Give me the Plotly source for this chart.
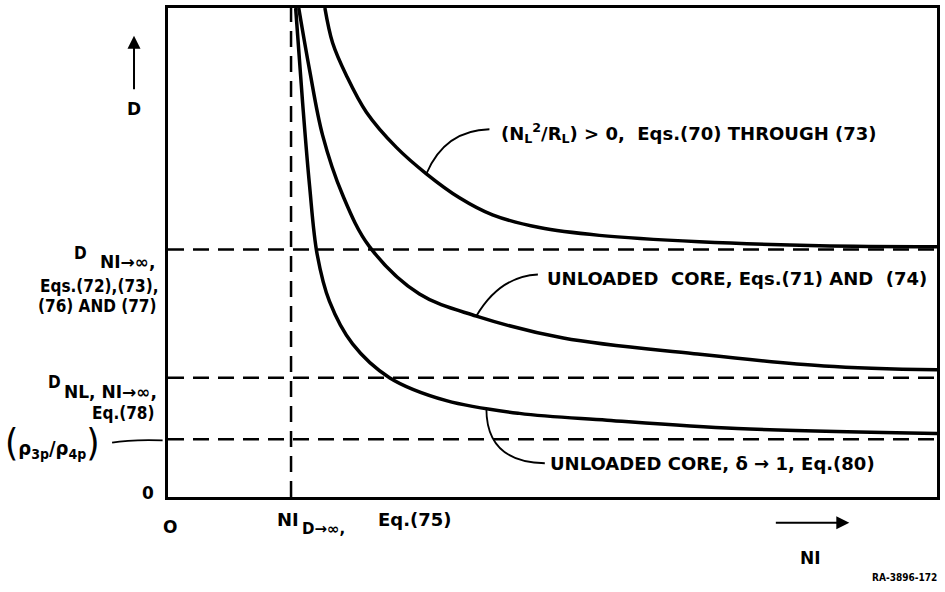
import plotly.graph_objects as go

# Curves (arbitrary units: NI 0..100, D 0..100)
top_x = [20.4, 21.4, 23.2, 25.8, 29.7, 33.6, 37.9, 42.2, 48.3, 56.1, 69.1, 84.7, 100]
top_y = [100, 92.9, 86.2, 78.7, 71.5, 66.1, 61.2, 57.7, 55.1, 53.5, 52.2, 51.4, 51.2]

mid_x = [17.0, 18.4, 20.1, 22.7, 26.2, 32.7, 40.1, 51.4, 68.4, 85.3, 100]
mid_y = [100, 87.4, 74.0, 61.8, 51.2, 41.5, 37.0, 32.5, 29.3, 26.8, 26.0]

bot_x = [16.6, 17.5, 18.4, 19.4, 21.0, 24.0, 28.8, 36.2, 45.7, 57.1, 74.0, 100]
bot_y = [100, 80.7, 63.8, 49.6, 40.0, 31.3, 24.4, 19.7, 17.1, 15.7, 14.0, 13.0]

# Asymptote levels
d_inf = 50.6
d_nl = 24.4
rho_ratio = 11.8
ni_d_inf = 16.0

FONT_IN = "DejaVu Sans"
FONT_SIDE = "DejaVu Sans Condensed"
fig = go.Figure()

dash = "16px,9px"
for lvl in [d_inf, d_nl, rho_ratio]:
    fig.add_trace(go.Scatter(x=[0, 100], y=[lvl, lvl], mode="lines",
                             line=dict(color="black", width=2.5, dash=dash),
                             hoverinfo="skip", showlegend=False))
fig.add_trace(go.Scatter(x=[ni_d_inf, ni_d_inf], y=[0, 100], mode="lines",
                         line=dict(color="black", width=2.5, dash=dash),
                         hoverinfo="skip", showlegend=False))

for xs, ys in [(top_x, top_y), (mid_x, mid_y), (bot_x, bot_y)]:
    fig.add_trace(go.Scatter(x=xs, y=ys, mode="lines",
                             line=dict(color="black", width=3.5, shape="spline", smoothing=1.0),
                             hoverinfo="skip", showlegend=False))

shapes = [
    dict(type="path", xref="x", yref="y", path="M 33.6,66.1 Q 36.0,75.0 41.8,75.2",
         line=dict(color="black", width=1.8)),
    dict(type="path", xref="x", yref="y", path="M 40.1,37.0 Q 43.1,45.1 48.1,45.5",
         line=dict(color="black", width=1.8)),
    dict(type="path", xref="x", yref="y", path="M 41.4,18.1 Q 41.4,7.1 49.0,6.9",
         line=dict(color="black", width=1.8)),
    dict(type="path", xref="paper", yref="paper", path="M -0.0727,0.111 Q -0.05,0.118 -0.007,0.116",
         line=dict(color="black", width=1.8)),
]

def ann(text, x, y, xanchor="left", yanchor="middle", size=18, family=FONT_IN):
    return dict(text=text, x=x, y=y, xref="paper", yref="paper", xanchor=xanchor, yanchor=yanchor,
                showarrow=False, align="left",
                font=dict(family=family, size=size, color="black", weight="bold"))

annotations = [
    ann("(N<sub>L</sub><sup>2</sup>/R<sub>L</sub>) > 0,  Eqs.(70) THROUGH (73)", 0.431, 0.745),
    ann("UNLOADED  CORE, Eqs.(71) AND  (74)", 0.490, 0.447),
    ann("UNLOADED CORE, δ → 1, Eq.(80)", 0.494, 0.069),
    # left side labels
    ann("D", -0.114, 0.500, xanchor="center", size=17, family=FONT_SIDE),
    ann("NI→∞,", -0.014, 0.480, xanchor="right", size=17),
    ann("Eqs.(72),(73),", -0.010, 0.431, xanchor="right", size=17, family=FONT_SIDE),
    ann("(76) AND (77)", -0.012, 0.390, xanchor="right", size=17, family=FONT_SIDE),
    ann("D", -0.147, 0.236, xanchor="center", size=17, family=FONT_SIDE),
    ann("NL, NI→∞,", -0.012, 0.214, xanchor="right", size=17),
    ann("Eq.(78)", -0.016, 0.172, xanchor="right", size=17, family=FONT_SIDE),
    ann("<span style='font-size:38px;font-weight:normal'>(</span>ρ<sub>3p</sub>/ρ<sub>4p</sub>"
        "<span style='font-size:38px;font-weight:normal'>)</span>",
        -0.214, 0.113, size=20, family=FONT_SIDE),
    # axis labels
    ann("0", -0.026, 0.008, xanchor="center", size=17),
    ann("D", -0.0442, 0.793, xanchor="center", size=17),
    ann("O", 0.0026, -0.061, xanchor="center", size=17),
    ann("NI", 0.139, -0.045, size=18),
    ann("D→∞,", 0.1714, -0.066, size=15),
    ann("Eq.(75)", 0.2706, -0.045, size=18),
    ann("NI", 0.836, -0.124, xanchor="center", size=17),
    ann("RA-3896-172", 1.003, -0.165, xanchor="right", size=10, family=FONT_SIDE),
    dict(text="", x=-0.0442, y=0.943, xref="paper", yref="paper", ax=0, ay=55,
         showarrow=True, arrowhead=2, arrowsize=1.3, arrowwidth=2, arrowcolor="black"),
    dict(text="", x=0.886, y=-0.0528, xref="paper", yref="paper", ax=-75, ay=0,
         showarrow=True, arrowhead=2, arrowsize=1.3, arrowwidth=2, arrowcolor="black"),
]

fig.update_layout(
    width=945, height=592,
    margin=dict(l=168, r=7, t=5, b=95),
    paper_bgcolor="white", plot_bgcolor="white",
    shapes=shapes, annotations=annotations,
    xaxis=dict(range=[0, 100], showgrid=False, zeroline=False, showticklabels=False, ticks="",
               showline=True, mirror=True, linecolor="black", linewidth=3),
    yaxis=dict(range=[0, 100], showgrid=False, zeroline=False, showticklabels=False, ticks="",
               showline=True, mirror=True, linecolor="black", linewidth=3),
)

fig.write_html("out.html")
